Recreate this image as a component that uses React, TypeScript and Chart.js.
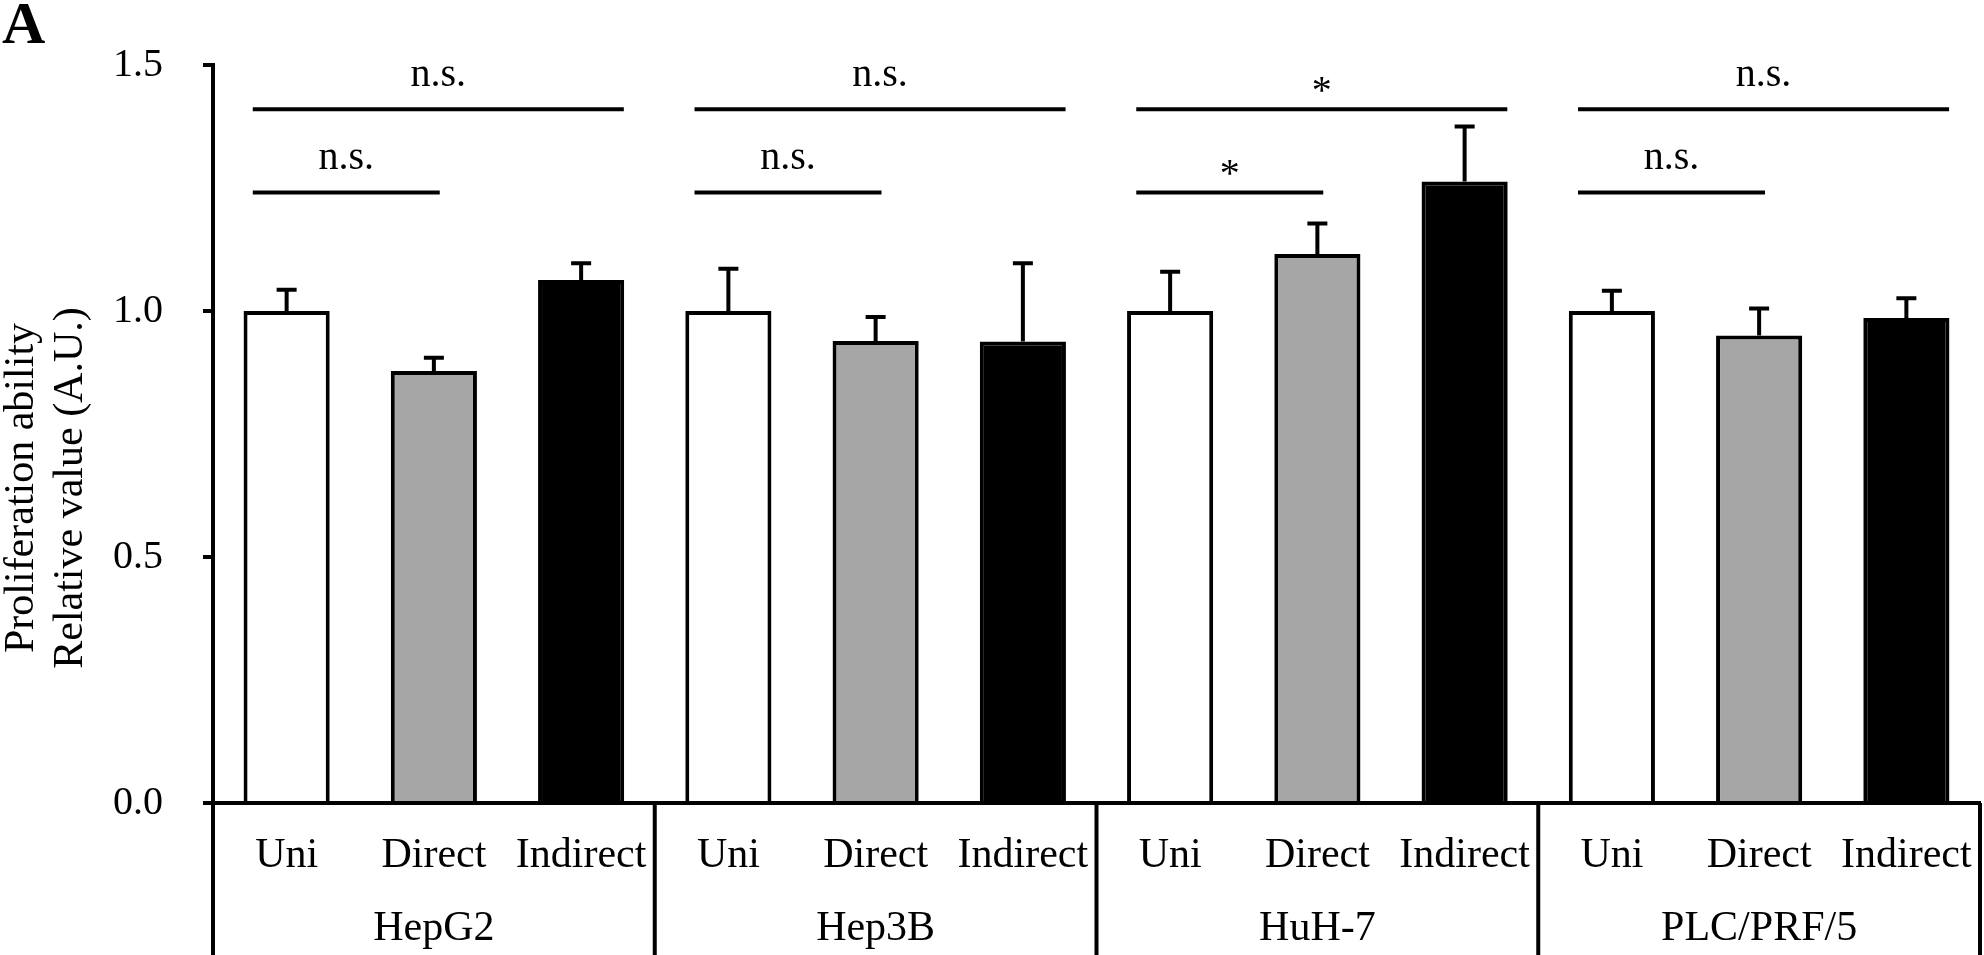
import React, { useEffect, useRef } from "react";
import { Chart, registerables } from "chart.js";

Chart.register(...registerables);

const groups = ["HepG2", "Hep3B", "HuH-7", "PLC/PRF/5"];
const conditions = ["Uni", "Direct", "Indirect"];
const conditionColors = ["#ffffff", "#a6a6a6", "#000000"];

const means = [1.0, 0.878, 1.063, 1.0, 0.939, 0.938, 1.0, 1.116, 1.263, 1.0, 0.95, 0.986];
const errors = [0.043, 0.027, 0.034, 0.086, 0.049, 0.159, 0.08, 0.062, 0.112, 0.041, 0.055, 0.04];

// significance: group index, compared condition, height, label
const sigGroups = [0, 0, 1, 1, 2, 2, 3, 3];
const sigTo = [1, 2, 1, 2, 1, 2, 1, 2];
const sigHeights = [1.241, 1.41, 1.241, 1.41, 1.241, 1.41, 1.241, 1.41];
const sigLabels = ["n.s.", "n.s.", "n.s.", "n.s.", "*", "*", "n.s.", "n.s."];

const yTickLabels = ["0.0", "0.5", "1.0", "1.5"];
const yTitleLines = ["Proliferation ability", "Relative value (A.U.)"];
const panelLetter = "A";

const labels: string[] = [];
const colors: string[] = [];
groups.forEach(() => {
  conditions.forEach((c, j) => {
    labels.push(c);
    colors.push(conditionColors[j]);
  });
});

const FONT = "'Liberation Serif', 'Times New Roman', serif";

const decorPlugin = {
  id: "decor",
  afterDatasetsDraw(chart: any) {
    const { ctx, scales, chartArea } = chart;
    const x = scales.x;
    const y = scales.y;
    const catW = x.getPixelForValue(1) - x.getPixelForValue(0);
    ctx.save();
    ctx.strokeStyle = "#000";
    ctx.fillStyle = "#000";
    ctx.lineWidth = 4;
    ctx.lineCap = "butt";

    // error bars (upper only)
    const meta = chart.getDatasetMeta(0);
    meta.data.forEach((bar: any, i: number) => {
      const cx = bar.x;
      const yTop = y.getPixelForValue(means[i]);
      const yErr = y.getPixelForValue(means[i] + errors[i]);
      ctx.beginPath();
      ctx.moveTo(cx, yTop);
      ctx.lineTo(cx, yErr);
      ctx.moveTo(cx - 10, yErr);
      ctx.lineTo(cx + 10, yErr);
      ctx.stroke();
    });

    // significance lines
    ctx.font = `40px ${FONT}`;
    ctx.textAlign = "center";
    ctx.textBaseline = "alphabetic";
    sigGroups.forEach((g, k) => {
      const from = g * 3;
      const to = g * 3 + sigTo[k];
      const x1 = x.getPixelForValue(from) - 0.23 * catW;
      const x2 = x.getPixelForValue(to) + (sigTo[k] === 2 ? 0.29 : 0.04) * catW;
      const yy = y.getPixelForValue(sigHeights[k]);
      ctx.beginPath();
      ctx.moveTo(x1, yy);
      ctx.lineTo(x2, yy);
      ctx.stroke();
      const off = sigLabels[k] === "*" ? 6 : 23;
      ctx.fillText(sigLabels[k], (x1 + x2) / 2, yy - off);
    });

    // group separators and labels under the axis
    const bottom = chart.height;
    ctx.font = `42px ${FONT}`;
    for (let g = 0; g <= groups.length; g++) {
      let sx: number;
      if (g === 0) sx = chartArea.left;
      else if (g === groups.length) sx = chartArea.right;
      else sx = (x.getPixelForValue(g * 3 - 1) + x.getPixelForValue(g * 3)) / 2;
      ctx.beginPath();
      ctx.moveTo(sx, chartArea.bottom);
      ctx.lineTo(sx, bottom);
      ctx.stroke();
    }
    labels.forEach((l, i) => {
      ctx.fillText(l, x.getPixelForValue(i), chartArea.bottom + 64);
    });
    groups.forEach((gname, g) => {
      ctx.fillText(gname, x.getPixelForValue(g * 3 + 1), chartArea.bottom + 137);
    });

    // y title (two lines, rotated)
    ctx.save();
    ctx.translate(0, 488);
    ctx.rotate(-Math.PI / 2);
    ctx.font = `42px ${FONT}`;
    ctx.fillText(yTitleLines[0], 0, 33);
    ctx.fillText(yTitleLines[1], 0, 82);
    ctx.restore();

    // panel letter
    ctx.textAlign = "left";
    ctx.font = `bold 60px ${FONT}`;
    ctx.fillText(panelLetter, 2, 43);
    ctx.restore();
  },
};

export default function App() {
  const ref = useRef<HTMLCanvasElement | null>(null);
  useEffect(() => {
    if (!ref.current) return;
    const chart = new Chart(ref.current, {
      type: "bar",
      data: {
        labels,
        datasets: [
          {
            data: means,
            backgroundColor: colors,
            borderColor: "#000",
            borderWidth: 4,
            borderSkipped: "start",
            barPercentage: 0.585,
            categoryPercentage: 1,
          },
        ],
      },
      options: {
        animation: false,
        responsive: true,
        maintainAspectRatio: false,
        devicePixelRatio: 1,
        layout: { padding: { top: 65, right: 4, bottom: 0, left: 0 } },
        plugins: { legend: { display: false }, tooltip: { enabled: false }, title: { display: false } },
        scales: {
          x: {
            grid: { display: false },
            border: { display: true, color: "#000", width: 4 },
            ticks: { display: false },
            afterFit: (s: any) => {
              s.height = 152;
            },
          },
          y: {
            min: 0,
            max: 1.5,
            afterBuildTicks: (s: any) => {
              s.ticks = yTickLabels.map((t) => ({ value: parseFloat(t) }));
            },
            ticks: {
              callback: (v: any) => yTickLabels.find((t) => parseFloat(t) === Number(v)) ?? "",
              color: "#000",
              font: { family: FONT, size: 40 },
              padding: 40,
            },
            grid: {
              display: true,
              drawOnChartArea: false,
              drawTicks: true,
              tickLength: 10,
              color: "#000",
              lineWidth: 4,
            },
            border: { display: true, color: "#000", width: 4 },
            afterFit: (s: any) => {
              s.width = 213;
            },
          },
        },
      },
      plugins: [decorPlugin],
    });
    return () => chart.destroy();
  }, []);
  return (
    <div style={{ position: "absolute", left: 0, top: 0, width: 1984, height: 955, background: "#fff" }}>
      <canvas ref={ref} />
    </div>
  );
}
